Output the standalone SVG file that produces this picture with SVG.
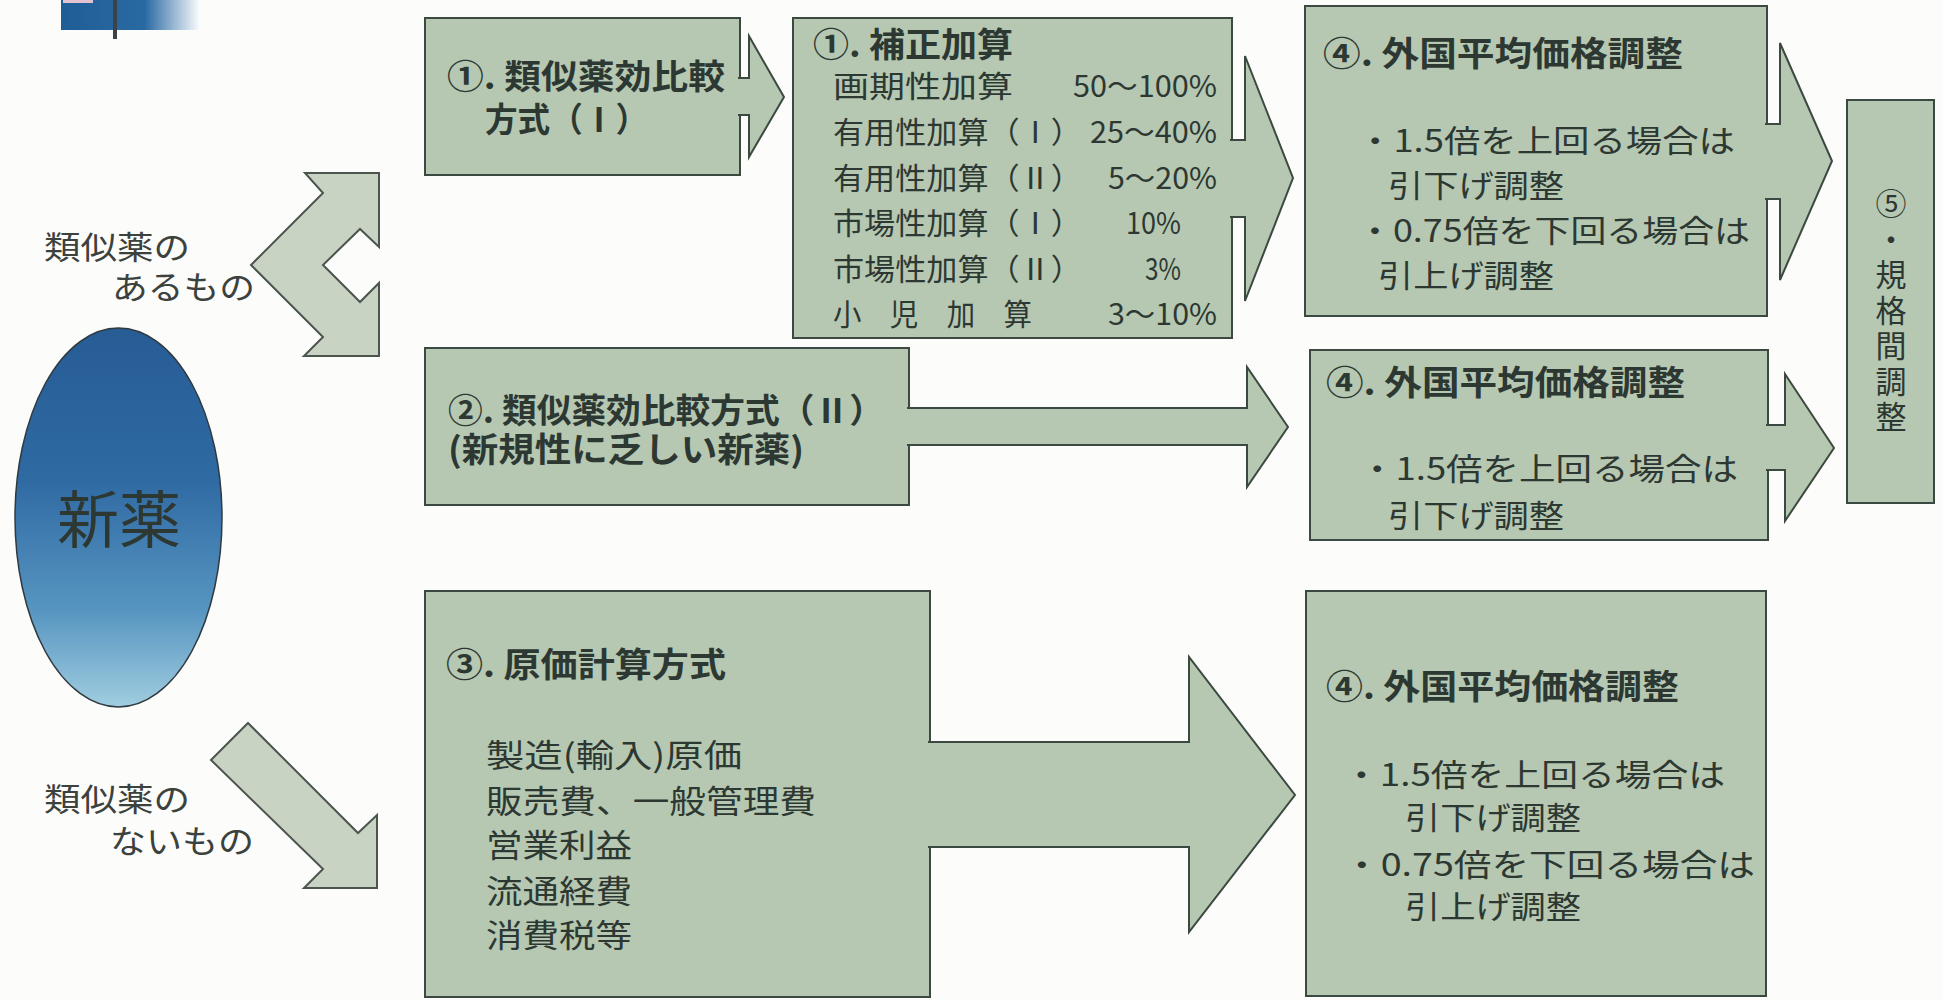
<svg xmlns="http://www.w3.org/2000/svg" width="1943" height="1000" viewBox="0 0 1943 1000">
<defs>
<linearGradient id="eg" x1="0" y1="0" x2="0" y2="1">
<stop offset="0" stop-color="#275c95"/>
<stop offset="0.4" stop-color="#2f6aa3"/>
<stop offset="0.75" stop-color="#5896c1"/>
<stop offset="1" stop-color="#a0cde0"/>
</linearGradient>
<linearGradient id="lg" x1="0" y1="0" x2="1" y2="0">
<stop offset="0" stop-color="#1f5d97"/>
<stop offset="0.6" stop-color="#2a6aa2"/>
<stop offset="1" stop-color="#ffffff"/>
</linearGradient>
<style>
.box{fill:#b6c8b2;stroke:#3b4940;stroke-width:2}
.arr{fill:#b6c8b2;stroke:#3b4940;stroke-width:2;stroke-linejoin:miter}
.arl{fill:#c8d3c4;stroke:#4b554e;stroke-width:2;stroke-linejoin:miter}
.t{font-family:"Noto Sans CJK JP","Noto Sans CJK SC",sans-serif;fill:#2d3832}
.b{font-weight:bold;font-size:34px}
.s30{font-size:30px}
.s31{font-size:31px}
.s32{font-size:32px}
.lab{font-family:"Noto Sans CJK JP","Noto Sans CJK SC",sans-serif;fill:#3b413d;font-size:32px}
</style>
</defs>
<rect width="1943" height="1000" fill="#fcfcfa"/>

<g id="logo">
<rect x="61" y="0" width="140" height="30" fill="url(#lg)"/>
<rect x="63" y="0" width="30" height="3" fill="#e2c3cf"/>
<rect x="113" y="0" width="4" height="39" fill="#3c4248"/>
</g>

<g id="node-shinyaku">
<ellipse cx="118.5" cy="517.5" rx="103.5" ry="189.5" fill="url(#eg)" stroke="#2f3a40" stroke-width="1.5"/>
<text class="t" x="119" y="543" font-size="62" text-anchor="middle" fill="#26323c">新薬</text>
</g>

<g id="node-ruiji1">
<rect class="box" x="425" y="18" width="315" height="157"/>
<text class="t b" x="447" y="89" textLength="278" lengthAdjust="spacingAndGlyphs">①. 類似薬効比較</text>
<text class="t b" x="485" y="132" textLength="163" lengthAdjust="spacingAndGlyphs">方式（Ⅰ）</text>
</g>

<g id="node-hosei">
<rect class="box" x="793" y="18" width="439" height="320"/>
<text class="t b" x="813" y="57" textLength="200" lengthAdjust="spacingAndGlyphs">①. 補正加算</text>
<g class="t s30">
<text x="833" y="97" textLength="180" lengthAdjust="spacingAndGlyphs">画期性加算</text>
<text x="1073" y="97" textLength="144" lengthAdjust="spacingAndGlyphs">50～100%</text>
<text x="833" y="143" textLength="249" lengthAdjust="spacingAndGlyphs">有用性加算（Ⅰ）</text>
<text x="1090" y="143" textLength="127" lengthAdjust="spacingAndGlyphs">25～40%</text>
<text x="833" y="189" textLength="249" lengthAdjust="spacingAndGlyphs">有用性加算（Ⅱ）</text>
<text x="1108" y="189" textLength="109" lengthAdjust="spacingAndGlyphs">5～20%</text>
<text x="833" y="234" textLength="249" lengthAdjust="spacingAndGlyphs">市場性加算（Ⅰ）</text>
<text x="1126" y="234" textLength="55" lengthAdjust="spacingAndGlyphs">10%</text>
<text x="833" y="280" textLength="249" lengthAdjust="spacingAndGlyphs">市場性加算（Ⅱ）</text>
<text x="1145" y="280" textLength="36" lengthAdjust="spacingAndGlyphs">3%</text>
<text x="833" y="325" textLength="199" lengthAdjust="spacingAndGlyphs">小　児　加　算</text>
<text x="1108" y="325" textLength="109" lengthAdjust="spacingAndGlyphs">3～10%</text>
</g>
</g>

<g id="node-ruiji2">
<rect class="box" x="425" y="348" width="484" height="157"/>
<text class="t b" x="448" y="423" textLength="436" lengthAdjust="spacingAndGlyphs">②. 類似薬効比較方式（Ⅱ）</text>
<text class="t b" x="448" y="462" textLength="356" lengthAdjust="spacingAndGlyphs">(新規性に乏しい新薬)</text>
</g>

<g id="node-genka">
<rect class="box" x="425" y="591" width="505" height="406"/>
<text class="t b" x="446" y="677" textLength="280" lengthAdjust="spacingAndGlyphs">③. 原価計算方式</text>
<g class="t s32">
<text x="486" y="767" textLength="256" lengthAdjust="spacingAndGlyphs">製造(輸入)原価</text>
<text x="486" y="813" textLength="330" lengthAdjust="spacingAndGlyphs">販売費、一般管理費</text>
<text x="486" y="857" textLength="146" lengthAdjust="spacingAndGlyphs">営業利益</text>
<text x="486" y="903" textLength="146" lengthAdjust="spacingAndGlyphs">流通経費</text>
<text x="486" y="947" textLength="146" lengthAdjust="spacingAndGlyphs">消費税等</text>
</g>
</g>

<g id="node-gaikoku1">
<rect class="box" x="1305" y="6" width="462" height="310"/>
<text class="t b" x="1323" y="66" textLength="360" lengthAdjust="spacingAndGlyphs">④. 外国平均価格調整</text>
<g class="t s31">
<text x="1357" y="152" textLength="378" lengthAdjust="spacingAndGlyphs">・1.5倍を上回る場合は</text>
<text x="1388" y="197" textLength="176" lengthAdjust="spacingAndGlyphs">引下げ調整</text>
<text x="1357" y="242" textLength="393" lengthAdjust="spacingAndGlyphs">・0.75倍を下回る場合は</text>
<text x="1378" y="287" textLength="176" lengthAdjust="spacingAndGlyphs">引上げ調整</text>
</g>
</g>

<g id="node-gaikoku2">
<rect class="box" x="1310" y="350" width="458" height="190"/>
<text class="t b" x="1326" y="395" textLength="359" lengthAdjust="spacingAndGlyphs">④. 外国平均価格調整</text>
<g class="t s31">
<text x="1359" y="480" textLength="379" lengthAdjust="spacingAndGlyphs">・1.5倍を上回る場合は</text>
<text x="1388" y="527" textLength="176" lengthAdjust="spacingAndGlyphs">引下げ調整</text>
</g>
</g>

<g id="node-gaikoku3">
<rect class="box" x="1306" y="591" width="460" height="405"/>
<text class="t b" x="1326" y="699" textLength="353" lengthAdjust="spacingAndGlyphs">④. 外国平均価格調整</text>
<g class="t s31">
<text x="1343" y="786" textLength="382" lengthAdjust="spacingAndGlyphs">・1.5倍を上回る場合は</text>
<text x="1405" y="829" textLength="176" lengthAdjust="spacingAndGlyphs">引下げ調整</text>
<text x="1343" y="876" textLength="412" lengthAdjust="spacingAndGlyphs">・0.75倍を下回る場合は</text>
<text x="1405" y="918" textLength="176" lengthAdjust="spacingAndGlyphs">引上げ調整</text>
</g>
</g>

<g id="node-kikaku">
<rect class="box" x="1847" y="100" width="87" height="403"/>
<text class="t" x="1891" y="188" font-size="31" style="writing-mode:vertical-rl" textLength="244" lengthAdjust="spacing">⑤・規格間調整</text>
</g>

<g id="connectors">
<polygon class="arl" points="305,173 379,173 379,247 360,229 323,265 360,302 379,283 379,356 304,356 323,337 251,265 323,193"/>
<polygon class="arl" points="248,723 358,833 377,815 377,888 304,888 323,869 211,760"/>
<path class="arr" d="M738,78 L749,78 L749,36 L784,97 L749,157 L749,115 L738,115"/>
<path class="arr" d="M1230,140 L1245,140 L1245,56 L1293,178 L1245,301 L1245,217 L1230,217"/>
<path class="arr" d="M907,408 L1247,408 L1247,367 L1288,427 L1247,487 L1247,445 L907,445"/>
<path class="arr" d="M928,742 L1189,742 L1189,657 L1295,795 L1189,932 L1189,847 L928,847"/>
<path class="arr" d="M1765,124 L1780,124 L1780,43 L1832,161 L1780,280 L1780,199 L1765,199"/>
<path class="arr" d="M1766,425 L1785,425 L1785,374 L1834,448 L1785,521 L1785,470 L1766,470"/>
<g id="connector-labels">
<text class="lab" x="44" y="259" textLength="146" lengthAdjust="spacingAndGlyphs">類似薬の</text>
<text class="lab" x="112" y="299" textLength="143" lengthAdjust="spacingAndGlyphs">あるもの</text>
<text class="lab" x="44" y="811" textLength="146" lengthAdjust="spacingAndGlyphs">類似薬の</text>
<text class="lab" x="110" y="853" textLength="144" lengthAdjust="spacingAndGlyphs">ないもの</text>
</g>
</g>
</svg>
